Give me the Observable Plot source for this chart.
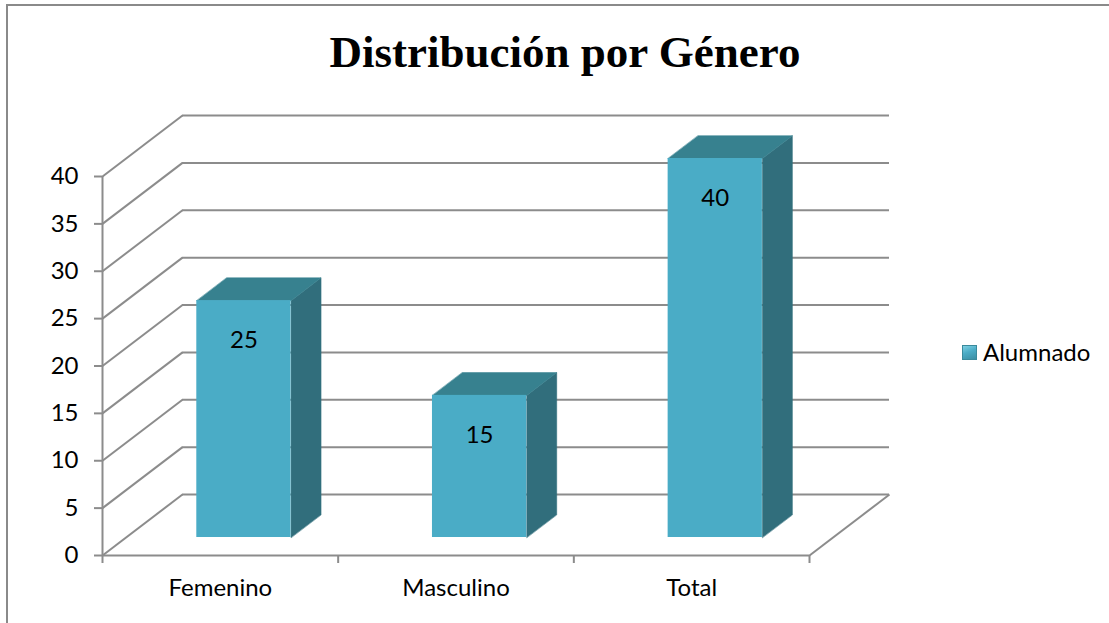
<!DOCTYPE html>
<html>
<head>
<meta charset="utf-8">
<script src="https://cdn.jsdelivr.net/npm/d3@7"></script>
<script src="https://cdn.jsdelivr.net/npm/@observablehq/plot@0.6"></script>
<style>
  html, body { margin: 0; padding: 0; background: #fff; }
  #wrap { position: relative; width: 1109px; height: 623px; overflow: hidden; }
  #frame { position: absolute; left: 6px; top: 4px; width: 1200px; height: 700px;
           border-left: 2px solid #8a8a8a; border-top: 2px solid #8a8a8a; }
  #title { position: absolute; left: 0; width: 1130px; top: 30px; text-align: center;
           font: bold 45px/45px "Liberation Serif", serif; color: #000; white-space: nowrap; }
  #legend { position: absolute; left: 962px; top: 340px; display: flex; align-items: center;
            font: 24px/24px Lato, sans-serif; color: #000; }
  #legend .sw { width: 13px; height: 13px; margin-right: 6px; border: 1px solid #3a8a9c;
                background: linear-gradient(160deg, #7fd0e3 0%, #4bacc6 45%, #3b8ea3 100%); }
  #chart { position: absolute; left: 0; top: 0; }
</style>
</head>
<body>
<div id="wrap">
  <div id="chart"></div>
  <div id="frame"></div>
  <div id="title"></div>
  <div id="legend"><div class="sw"></div><span id="legendText"></span></div>
</div>
<script>
// ---- data ----
const categories = ["Femenino", "Masculino", "Total"];
const values = [25, 15, 40];
const yTicks = [0, 5, 10, 15, 20, 25, 30, 35, 40];
const seriesName = "Alumnado";
const titleText = "Distribución por Género";

document.getElementById("title").textContent = titleText;
document.getElementById("legendText").textContent = seriesName;

// ---- geometry (3D projection expressed in data units) ----
const W = 1109, H = 623;
const M = {left: 102, right: 300, top: 176, bottom: 68};
const n = categories.length;
const yMax = 40;
const kx = (W - M.left - M.right) / n;       // px per category unit
const ky = (H - M.top - M.bottom) / yMax;     // px per value unit
const DEPTH_PX = [80, 61];                    // depth of the box (right, up)
const ddx = DEPTH_PX[0] / kx, ddy = DEPTH_PX[1] / ky;
const BAR_W = 0.4, BAR_FRONT = 0.295, BAR_DEPTH = 0.375;
const ox = BAR_FRONT * ddx, oy = BAR_FRONT * ddy;
const bdx = BAR_DEPTH * ddx, bdy = BAR_DEPTH * ddy;

const bars = categories.map((c, i) => {
  const xc = i + 0.5;
  return {cat: c, value: values[i], xc, xl: xc - BAR_W / 2 + ox, xr: xc + BAR_W / 2 + ox};
});

const sideVerts = [], topVerts = [];
bars.forEach((b, i) => {
  const y0 = oy, y1 = b.value + oy;
  sideVerts.push(
    {id: i, x: b.xr, y: y0}, {id: i, x: b.xr, y: y1},
    {id: i, x: b.xr + bdx, y: y1 + bdy}, {id: i, x: b.xr + bdx, y: y0 + bdy});
  topVerts.push(
    {id: i, x: b.xl, y: y1}, {id: i, x: b.xr, y: y1},
    {id: i, x: b.xr + bdx, y: y1 + bdy}, {id: i, x: b.xl + bdx, y: y1 + bdy});
});

const GRID = "#8c8c8c";
const FONT = 24;

const plot = Plot.plot({
  width: W, height: H,
  marginLeft: M.left, marginRight: M.right, marginTop: M.top, marginBottom: M.bottom,
  x: {type: "linear", domain: [0, n]},
  y: {type: "linear", domain: [0, yMax]},
  style: {fontFamily: "Lato, sans-serif", fontSize: FONT + "px", color: "#000", background: "transparent"},
  marks: [
    // left wall diagonals
    Plot.link(yTicks, {x1: () => 0, y1: d => d, x2: () => ddx, y2: d => d + ddy, stroke: GRID, strokeWidth: 2}),
    // back wall gridlines
    Plot.ruleY(yTicks, {y: d => d + ddy, x1: () => ddx, x2: () => n + ddx, stroke: GRID, strokeWidth: 2}),
    // floor right edge
    Plot.link([0], {x1: () => n, y1: () => 0, x2: () => n + ddx, y2: () => ddy, stroke: GRID, strokeWidth: 2}),
    // floor front edge
    Plot.ruleY([0], {x1: () => 0, x2: () => n, stroke: GRID, strokeWidth: 2}),
    // y axis line
    Plot.ruleX([0], {y1: () => 0, y2: () => yMax, stroke: GRID, strokeWidth: 2}),
    // bars
    Plot.line(sideVerts, {x: "x", y: "y", z: "id", fill: "#316e7c", stroke: "#316e7c", strokeWidth: 0.5, curve: "linear-closed"}),
    Plot.line(topVerts, {x: "x", y: "y", z: "id", fill: "#37818f", stroke: "#37818f", strokeWidth: 0.5, curve: "linear-closed"}),
    Plot.rect(bars, {x1: "xl", x2: "xr", y1: () => oy, y2: d => d.value + oy, fill: "#4aacc6", inset: 0}),
    Plot.text(bars, {x: d => d.xc + ox, y: d => d.value + oy, text: d => String(d.value), dy: 40, fontSize: FONT, fill: "#000"}),
    // axes
    Plot.axisY(yTicks, {tickSize: 8, tickPadding: 16, stroke: GRID, strokeWidth: 2, fill: "#000", fontSize: FONT, label: null, tickFormat: d => String(d)}),
    Plot.axisX(d3.range(n + 1), {tickSize: 8, stroke: GRID, strokeWidth: 2, tickFormat: () => "", label: null}),
    Plot.axisX(bars.map(b => b.xc), {tickSize: 0, tickPadding: 23, fill: "#000", fontSize: FONT, label: null, tickFormat: d => categories[Math.floor(d)]})
  ]
});
document.getElementById("chart").appendChild(plot);
</script>
</body>
</html>
